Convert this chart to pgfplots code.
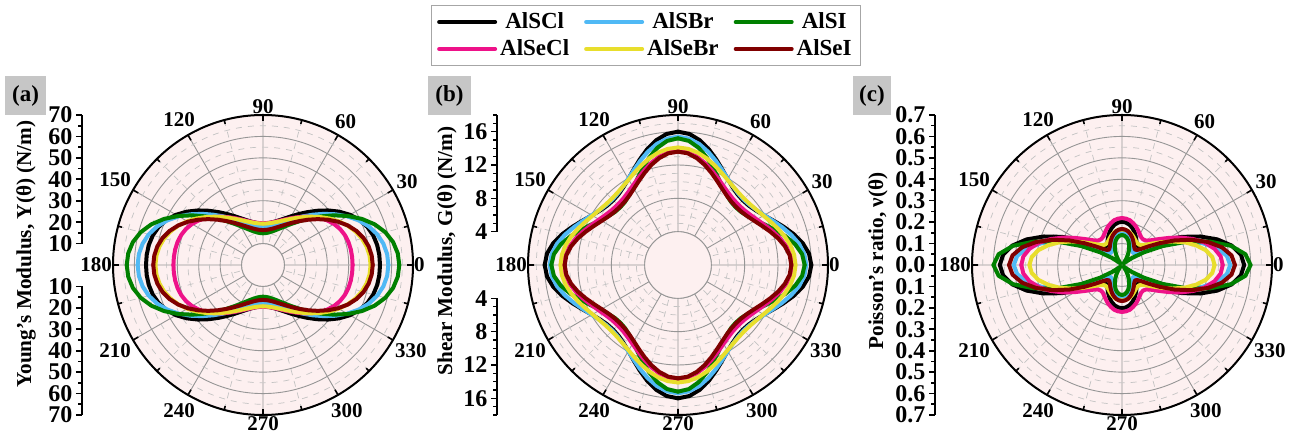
\documentclass[border=0pt]{standalone}
\usepackage{fontspec}
\setmainfont{Liberation Serif}
\usepackage{pgfplots}
\pgfplotsset{compat=1.18}
\usepackage{pgfplotstable}
\usepgfplotslibrary{polar}

\definecolor{bgpink}{RGB}{253,240,240}
\definecolor{cblack}{RGB}{0,0,0}
\definecolor{cblue}{RGB}{80,185,245}
\definecolor{cgreen}{RGB}{0,128,0}
\definecolor{cpink}{RGB}{238,18,137}
\definecolor{cyellow}{RGB}{232,222,44}
\definecolor{cred}{RGB}{128,0,0}
\definecolor{gridmaj}{RGB}{150,150,150}
\definecolor{gridmin}{RGB}{195,195,195}
\definecolor{boxgray}{RGB}{198,198,198}

% Young's modulus (N/m), first quadrant, mirrored for the others
\pgfplotstableread{
t  c1    c2    c3    c4    c5    c6
0  54.60 58.50 63.60 41.80 50.20 51.20
5  54.48 58.15 63.12 41.76 49.93 50.92
10 54.08 57.07 61.64 41.62 49.13 50.06
15 53.26 55.22 59.09 41.30 47.78 48.58
20 51.84 52.60 55.46 40.70 45.89 46.43
25 49.71 49.26 50.90 39.70 43.53 43.67
30 46.85 45.40 45.74 38.27 40.79 40.41
35 43.40 41.27 40.40 36.40 37.83 36.87
40 39.61 37.13 35.30 34.20 34.81 33.29
45 35.79 33.24 30.72 31.82 31.89 29.89
50 32.19 29.76 26.79 29.42 29.18 26.81
55 28.99 26.75 23.54 27.15 26.78 24.14
60 26.25 24.24 20.93 25.12 24.71 21.90
65 24.01 22.21 18.88 23.38 23.00 20.09
70 22.25 20.63 17.32 21.96 21.64 18.67
75 20.93 19.45 16.18 20.87 20.60 17.60
80 20.01 18.63 15.40 20.11 19.87 16.87
85 19.48 18.16 14.95 19.65 19.44 16.44
90 19.30 18.00 14.80 19.50 19.30 16.30
}\tabE

% Shear modulus (N/m)
\pgfplotstableread{
t  c1    c2    c3    c4    c5    c6
0  16.00 15.40 15.20 13.70 14.10 13.60
5  15.78 15.22 14.95 13.56 13.99 13.45
10 15.19 14.74 14.28 13.18 13.69 13.02
15 14.36 14.05 13.35 12.63 13.26 12.42
20 13.46 13.29 12.37 12.02 12.76 11.75
25 12.62 12.56 11.48 11.43 12.27 11.12
30 11.92 11.95 10.75 10.93 11.84 10.58
35 11.41 11.50 10.21 10.55 11.52 10.18
40 11.09 11.22 9.89  10.31 11.31 9.94
45 10.99 11.12 9.79  10.24 11.24 9.86
50 11.09 11.22 9.89  10.31 11.31 9.94
55 11.41 11.50 10.21 10.55 11.52 10.18
60 11.92 11.95 10.75 10.93 11.84 10.58
65 12.62 12.56 11.48 11.43 12.27 11.12
70 13.46 13.29 12.37 12.02 12.76 11.75
75 14.36 14.05 13.35 12.63 13.26 12.42
80 15.19 14.74 14.28 13.18 13.69 13.02
85 15.78 15.22 14.95 13.56 13.99 13.45
90 16.00 15.40 15.20 13.70 14.10 13.60
}\tabG

% Poisson's ratio
\pgfplotstableread{
t  c1    c2    c3    c4    c5    c6
0  0.570 0.505 0.600 0.470 0.432 0.527
5  0.557 0.491 0.578 0.462 0.423 0.513
10 0.520 0.451 0.516 0.438 0.397 0.474
15 0.461 0.391 0.423 0.401 0.357 0.415
20 0.389 0.318 0.315 0.354 0.310 0.344
25 0.311 0.245 0.209 0.303 0.260 0.271
30 0.239 0.179 0.120 0.253 0.213 0.204
35 0.180 0.129 0.057 0.211 0.175 0.152
40 0.140 0.096 0.022 0.180 0.148 0.117
45 0.119 0.079 0.011 0.161 0.131 0.099
50 0.114 0.077 0.017 0.155 0.124 0.094
55 0.120 0.083 0.033 0.157 0.124 0.100
60 0.134 0.096 0.055 0.166 0.129 0.111
65 0.150 0.110 0.077 0.178 0.137 0.124
70 0.167 0.125 0.098 0.191 0.146 0.138
75 0.181 0.138 0.116 0.202 0.154 0.150
80 0.192 0.147 0.129 0.212 0.161 0.160
85 0.199 0.153 0.137 0.217 0.165 0.166
90 0.202 0.155 0.140 0.219 0.166 0.168
}\tabN

\newcommand{\quadplot}[3]{%
  \addplot[#1] table[x=t,y=#3]{#2};
  \addplot[#1,forget plot] table[x expr=180-\thisrow{t},y=#3]{#2};
  \addplot[#1,forget plot] table[x expr=180+\thisrow{t},y=#3]{#2};
  \addplot[#1,forget plot] table[x expr=360-\thisrow{t},y=#3]{#2};
}
\newcommand{\allcurves}[1]{%
  \quadplot{curve,cblack}{#1}{c1}
  \quadplot{curve,cblue}{#1}{c2}
  \quadplot{curve,cgreen}{#1}{c3}
  \quadplot{curve,cpink}{#1}{c4}
  \quadplot{curve,cyellow}{#1}{c5}
  \quadplot{curve,cred}{#1}{c6}
}

\pgfplotsset{
  mypolar/.style={
    scale only axis, width=150pt, height=150pt,
    xmin=0, xmax=360, ymin=0,
    xtick={0,30,...,330},
    xticklabels={0,30,60,90,120,150,180,210,240,270,300,330},
    minor xtick={15,45,...,345},
    grid=both,
    major grid style={gridmaj, line width=0.45pt},
    minor grid style={gridmin, dashed, line width=0.35pt},
    x axis line style={black, line width=1pt},
    y axis line style={draw=none},
    ytick style={draw=none},
    yticklabels={},
    yticklabel style={opacity=0, text opacity=0},
    xtick align=outside,
    major tick length=3pt, minor tick length=2pt,
    xtick style={black, line width=0.8pt},
    axis background/.style={fill=bgpink},
    xticklabel style={font=\bfseries\fontsize{10.5}{12}\selectfont},
    legend image code/.code={\draw[##1] (0pt,0pt) -- (28pt,0pt);},
  },
  curve/.style={line width=2pt, line cap=round, line join=round, no marks},
  spine/.style={
    scale only axis, width=5pt, xmin=0, xmax=1,
    hide x axis, axis y line=left,
    y axis line style={-, line width=1pt, black},
    ytick align=outside, major tick length=3pt, minor tick length=1.8pt,
    tick style={black, line width=0.8pt},
    yticklabel style={font=\bfseries\fontsize{12}{12}\selectfont, inner sep=0.4pt, xshift=-1.2pt},
    clip=false,
  },
}

\begin{document}
\begin{tikzpicture}
\path (0,0) rectangle (653pt,221.5pt);

% ---------------- (a) ----------------
\begin{polaraxis}[mypolar, at={(131.5pt,89pt)}, anchor=center, ymax=70,
  ytick={10,20,...,70}, minor ytick={15,25,...,65}]
  \fill[bgpink, draw=gridmaj, line width=0.45pt] (axis cs:0,0) circle[radius=10.71pt];
  \allcurves{\tabE}
\end{polaraxis}
\begin{axis}[spine, at={(41pt,99.71pt)}, anchor=south west, height=64.29pt,
  ymin=10, ymax=70, ytick={10,20,30,40,50,60,70}, minor ytick={15,25,35,45,55,65},
  yticklabels={10,20,30,40,50,60,70}]
\end{axis}
\begin{axis}[spine, at={(41pt,78.29pt)}, anchor=north west, height=64.29pt,
  ymin=-70, ymax=-10, ytick={-70,-60,-50,-40,-30,-20,-10}, minor ytick={-65,-55,-45,-35,-25,-15},
  yticklabels={70,60,50,40,30,20,10}]
\end{axis}
\node[rotate=90, font=\bfseries\fontsize{10.6}{12}\selectfont] at (13pt,94.5pt) {Young's Modulus, Y(θ) (N/m)};
\node[fill=boxgray, minimum width=20.5pt, minimum height=19.5pt, inner sep=0pt,
  font=\bfseries\fontsize{11.5}{13}\selectfont] at (12.75pt,173.75pt) {(a)};

% ---------------- (b) ----------------
\begin{polaraxis}[mypolar, at={(339pt,89pt)}, anchor=center, ymax=18,
  ytick={4,8,12,16}, minor ytick={5,6,7,9,10,11,13,14,15,17},
  legend columns=3,
  legend style={at={(0.393,1.265)}, anchor=center, draw=gray!70, line width=0.6pt,
    font=\bfseries\fontsize{11.5}{13}\selectfont, fill=white,
    nodes={inner sep=1.5pt}, row sep=1pt,
    /tikz/every even column/.append style={column sep=6pt}}]
  \fill[bgpink, draw=gridmaj, line width=0.45pt] (axis cs:0,0) circle[radius=16.67pt];
  \allcurves{\tabG}
  \legend{AlSCl,AlSBr,AlSI,AlSeCl,AlSeBr,AlSeI}
\end{polaraxis}
\begin{axis}[spine, at={(248.5pt,105.67pt)}, anchor=south west, height=58.33pt,
  ymin=4, ymax=18, ytick={4,8,12,16}, minor ytick={5,6,7,9,10,11,13,14,15,17,18},
  yticklabels={4,8,12,16}]
\end{axis}
\begin{axis}[spine, at={(248.5pt,72.33pt)}, anchor=north west, height=58.33pt,
  ymin=-18, ymax=-4, ytick={-16,-12,-8,-4}, minor ytick={-18,-17,-15,-14,-13,-11,-10,-9,-7,-6,-5},
  yticklabels={16,12,8,4}]
\end{axis}
\node[rotate=90, font=\bfseries\fontsize{10.6}{12}\selectfont] at (223.5pt,96pt) {Shear Modulus, G(θ) (N/m)};
\node[fill=boxgray, minimum width=21.5pt, minimum height=19.5pt, inner sep=0pt,
  font=\bfseries\fontsize{11.5}{13}\selectfont] at (224.75pt,173.75pt) {(b)};

% ---------------- (c) ----------------
\begin{polaraxis}[mypolar, at={(561pt,89pt)}, anchor=center, ymax=0.7,
  ytick={0.1,0.2,0.3,0.4,0.5,0.6,0.7}, minor ytick={0.05,0.15,0.25,0.35,0.45,0.55,0.65}]
  \allcurves{\tabN}
\end{polaraxis}
\begin{axis}[spine, at={(467.5pt,14pt)}, anchor=south west, height=150pt,
  ymin=-0.7, ymax=0.7,
  ytick={-0.7,-0.6,-0.5,-0.4,-0.3,-0.2,-0.1,0,0.1,0.2,0.3,0.4,0.5,0.6,0.7},
  minor ytick={-0.65,-0.55,-0.45,-0.35,-0.25,-0.15,-0.05,0.05,0.15,0.25,0.35,0.45,0.55,0.65},
  yticklabels={0.7,0.6,0.5,0.4,0.3,0.2,0.1,0.0,0.1,0.2,0.3,0.4,0.5,0.6,0.7}]
\end{axis}
\node[rotate=90, font=\bfseries\fontsize{10.6}{12}\selectfont] at (439pt,91pt) {Poisson's ratio, ν(θ)};
\node[fill=boxgray, minimum width=19pt, minimum height=19.5pt, inner sep=0pt,
  font=\bfseries\fontsize{11.5}{13}\selectfont] at (436pt,173.75pt) {(c)};
\end{tikzpicture}
\end{document}
